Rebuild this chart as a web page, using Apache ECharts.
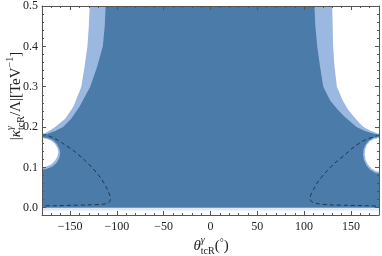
<!DOCTYPE html>
<html>
<head>
<meta charset="utf-8">
<script src="https://cdn.jsdelivr.net/npm/echarts@6/dist/echarts.min.js"></script>
<style>
html,body{margin:0;padding:0;background:#fff;}
#chart{width:382px;height:256px;}
</style>
</head>
<body>
<div id="chart"></div>
<script>
// ---- tick values ----
const xMajorTicks = [-150, -100, -50, 0, 50, 100, 150];
const xMinorTicks = [-180,-170,-160,-140,-130,-120,-110,-90,-80,-70,-60,-40,-30,-20,-10,10,20,30,40,60,70,80,90,110,120,130,140,160,170,180];
const yMajorTicks = [0.0, 0.1, 0.2, 0.3, 0.4, 0.5];
const yMinorTicks = [0.02,0.04,0.06,0.08,0.12,0.14,0.16,0.18,0.22,0.24,0.26,0.28,0.32,0.34,0.36,0.38,0.42,0.44,0.46,0.48];

// ---- regions (theta in degrees, kappa in TeV^-1) ----
const darkRegion = [[-180,0.0],[180,0.0],[180,0.5],[-180,0.5]];
const paleStrip = [[-180,-0.007],[180,-0.007],[180,0.0],[-180,0.0]];

const leftDarkEdge = [[-112,0.5],[-113,0.45],[-115,0.4],[-121,0.35],[-128.5,0.3],[-140,0.25],[-149,0.22],[-157.5,0.2],[-166,0.19],[-173,0.184],[-180,0.179]];
const leftLightEdge = [[-129,0.5],[-130,0.45],[-131.5,0.4],[-134.5,0.35],[-138,0.3],[-146.5,0.25],[-155.5,0.22],[-166,0.2],[-172.5,0.19],[-180,0.181]];
const rightDarkEdge = [[111,0.5],[112,0.45],[114,0.4],[117,0.35],[120.5,0.3],[128,0.265],[136,0.243],[143,0.226],[151,0.21],[156,0.2],[165,0.19],[172,0.185],[180,0.18]];
const rightLightEdge = [[130,0.5],[130.5,0.45],[131,0.4],[132.5,0.35],[135,0.3],[141,0.267],[147,0.243],[153,0.226],[159,0.21],[163.5,0.2],[170,0.192],[180,0.183]];

const leftHoleLight = [[-180,0.175],[-174,0.173],[-168,0.167],[-164,0.158],[-161.5,0.147],[-160.5,0.136],[-161.5,0.123],[-164.5,0.111],[-169,0.102],[-175,0.096],[-180,0.094]];
const leftHole = [[-180,0.173],[-175,0.171],[-170,0.166],[-166,0.158],[-163.5,0.148],[-162.5,0.138],[-163.5,0.127],[-166,0.117],[-170,0.108],[-175,0.102],[-180,0.1]];
const rightHoleLight = [[180,0.176],[174,0.173],[169,0.166],[165.5,0.156],[163.5,0.145],[163,0.132],[164,0.118],[166.5,0.105],[170.5,0.094],[175.5,0.087],[180,0.085]];
const rightHole = [[180,0.173],[175,0.171],[170.5,0.165],[167,0.156],[165.3,0.145],[164.8,0.132],[165.5,0.12],[168,0.108],[172,0.097],[176,0.091],[180,0.089]];

const leftContour = [[-180,0.183],[-174,0.179],[-166,0.171],[-158,0.16],[-145,0.139],[-135,0.119],[-126,0.098],[-117,0.073],[-111,0.049],[-107.5,0.03],[-107,0.02],[-109,0.013],[-114,0.009],[-131,0.007],[-149,0.006],[-165,0.005],[-180,0.005]];
const rightContour = [[180,0.181],[177,0.178],[165,0.168],[154,0.152],[143.5,0.131],[133,0.111],[124,0.09],[115,0.065],[110,0.045],[106.5,0.026],[107.5,0.016],[115,0.01],[129,0.007],[147,0.006],[165,0.005],[180,0.004]];

// ---- colours ----
const DARK = '#4a7ba9';
const LIGHT = '#9bb8e0';
const PALE = '#dfe8f4';
const FRAME = '#555555';
const SERIF = '"Liberation Serif", "DejaVu Serif", serif';

function polySeries(points, color, z) {
  return {
    type: 'custom', coordinateSystem: 'cartesian2d', xAxisIndex: 0, yAxisIndex: 0,
    data: points, clip: true, z: z, silent: true, animation: false,
    renderItem: function (params, api) {
      if (params.dataIndex !== 0) return null;
      const pts = points.map(function (p) { return api.coord(p); });
      return { type: 'polygon', shape: { points: pts }, style: { fill: color, stroke: null } };
    }
  };
}
function contourSeries(points) {
  return {
    type: 'line', xAxisIndex: 0, yAxisIndex: 0, data: points, showSymbol: false, symbol: 'none',
    smooth: 0.3, z: 10, silent: true, animation: false, clip: true,
    lineStyle: { color: '#1c2b45', width: 0.9, type: [4, 3] }
  };
}

// ---- rich titles built from text pieces ----
const mctx = document.createElement('canvas').getContext('2d');
function fontStr(size, italic) { return (italic ? 'italic ' : '') + size + 'px ' + SERIF; }
function measure(t, size, italic) { mctx.font = fontStr(size, italic); return mctx.measureText(t).width; }
function buildTitle(groups) {
  let x = 0; const items = [];
  groups.forEach(function (g) {
    let w = 0;
    g.forEach(function (p) {
      const pw = measure(p.t, p.s, p.it);
      items.push({ type: 'text', x: x, y: p.dy || 0, silent: true,
        style: { text: p.t, font: fontStr(p.s, p.it), fill: '#222', align: 'left', verticalAlign: 'middle', textAlign: 'left', textVerticalAlign: 'middle' } });
      w = Math.max(w, pw);
    });
    x += w + (g.gap || 0);
  });
  items.forEach(function (it) { it.x -= x / 2; });
  return items;
}
const B = 15, S = 10;
const yTitle = buildTitle([
  [{ t: '|', s: B }],
  [{ t: 'κ', s: B, it: true }],
  [{ t: 'γ', s: S, it: true, dy: -6 }, { t: 'tcR', s: S, dy: 5 }],
  [{ t: '/Λ|[TeV', s: B }],
  [{ t: '−1', s: S, dy: -6 }],
  [{ t: ']', s: B }]
]);
const xTitle = buildTitle([
  [{ t: 'θ', s: B, it: true }],
  [{ t: 'γ', s: S, it: true, dy: -6 }, { t: 'tcR', s: S, dy: 5 }],
  [{ t: '(', s: B }],
  [{ t: '°', s: S, dy: -3 }],
  [{ t: ')', s: B }]
]);

function xAxisDef(pos, ticks, len, showLine, showLabel) {
  return {
    type: 'value', min: -180, max: 180, position: pos, z: 20,
    axisLine: { show: showLine, onZero: false, lineStyle: { color: FRAME, width: 1 } },
    axisTick: { show: true, inside: true, length: len, customValues: ticks, lineStyle: { color: FRAME, width: 1 } },
    axisLabel: showLabel ? { show: true, customValues: ticks, margin: 6, fontFamily: SERIF, fontSize: 12, color: '#222',
      formatter: function (v) { return (v < 0 ? '\u2212' : '') + Math.abs(v); } } : { show: false },
    splitLine: { show: false }
  };
}
function yAxisDef(pos, ticks, len, showLine, showLabel) {
  return {
    type: 'value', min: -0.018, max: 0.5, position: pos, z: 20,
    axisLine: { show: showLine, onZero: false, lineStyle: { color: FRAME, width: 1 } },
    axisTick: { show: true, inside: true, length: len, customValues: ticks, lineStyle: { color: FRAME, width: 1 } },
    axisLabel: showLabel ? { show: true, customValues: ticks, margin: 4, fontFamily: SERIF, fontSize: 12, color: '#222',
      formatter: function (v) { return v.toFixed(1); } } : { show: false },
    splitLine: { show: false }
  };
}

const chart = echarts.init(document.getElementById('chart'), null, { renderer: 'canvas' });
chart.setOption({
  animation: false,
  backgroundColor: '#ffffff',
  grid: { left: 42, right: 3, top: 6, bottom: 41, containLabel: false },
  xAxis: [
    xAxisDef('bottom', xMajorTicks, 4, true, true),
    xAxisDef('bottom', xMinorTicks, 2, false, false),
    xAxisDef('top', xMajorTicks, 4, true, false),
    xAxisDef('top', xMinorTicks, 2, false, false)
  ],
  yAxis: [
    yAxisDef('left', yMajorTicks, 4, true, true),
    yAxisDef('left', yMinorTicks, 2, false, false),
    yAxisDef('right', yMajorTicks, 4, true, false),
    yAxisDef('right', yMinorTicks, 2, false, false)
  ],
  series: [
    polySeries(paleStrip, PALE, 1),
    polySeries(darkRegion, DARK, 2),
    polySeries(leftDarkEdge.concat([[-180, 0.5]]), LIGHT, 3),
    polySeries(rightDarkEdge.concat([[180, 0.5]]), LIGHT, 3),
    polySeries(leftLightEdge.concat([[-180, 0.5]]), '#ffffff', 4),
    polySeries(rightLightEdge.concat([[180, 0.5]]), '#ffffff', 4),
    polySeries(leftHoleLight, LIGHT, 5),
    polySeries(rightHoleLight, LIGHT, 5),
    polySeries(leftHole, '#ffffff', 6),
    polySeries(rightHole, '#ffffff', 6),
    contourSeries(leftContour),
    contourSeries(rightContour)
  ],
  graphic: [
    { type: 'group', x: 16, y: 96, rotation: Math.PI / 2, children: yTitle, silent: true },
    { type: 'group', x: 211, y: 246, children: xTitle, silent: true }
  ]
});
</script>
</body>
</html>
